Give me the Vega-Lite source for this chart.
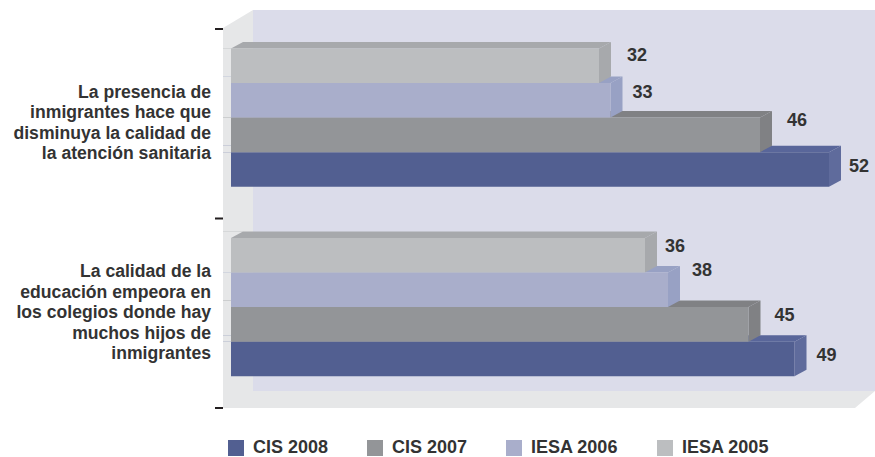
{
"$schema":"https://vega.github.io/schema/vega-lite/v6.json",
"width":652,"height":379,
"autosize":{"type":"none"},
"padding":{"left":223,"top":29,"right":0,"bottom":49},
"background":"white",
"config":{"view":{"stroke":null}},
"layer":[
{"data":{"values":[{"part":"wall"}]},
 "mark":{"type":"point","filled":true,"opacity":1,"fill":"#e6e7e8","strokeWidth":0,"size":4,"shape":"M-326 -190.5L-296 -208.5L326 -208.5L326 172.5L306 189.5L-326 189.5Z"},"encoding":{}},
{"data":{"values":[{"part":"back"}]},
 "mark":{"type":"point","filled":true,"opacity":1,"fill":"#dbdcea","strokeWidth":0,"size":4,"shape":"M-296 -208.5L326 -208.5L326 172.5L-296 172.5Z"},"encoding":{}},
{"data":{"values":[{"part":"ticks"}]},
 "mark":{"type":"point","filled":true,"opacity":1,"fill":"#231f20","strokeWidth":0,"size":4,"shape":"M-334 -190.5L-326 -190.5L-326 -188.5L-334 -188.5ZM-334 -1L-326 -1L-326 1L-334 1ZM-334 188.5L-326 188.5L-326 190.5L-334 190.5Z"},"encoding":{}},
{"data":{"values":[
{"grupo":"a_sanidad","serie":"CIS 2008","valor":52},
{"grupo":"a_sanidad","serie":"CIS 2007","valor":46},
{"grupo":"a_sanidad","serie":"IESA 2006","valor":33},
{"grupo":"a_sanidad","serie":"IESA 2005","valor":32},
{"grupo":"b_educacion","serie":"CIS 2008","valor":49},
{"grupo":"b_educacion","serie":"CIS 2007","valor":45},
{"grupo":"b_educacion","serie":"IESA 2006","valor":38},
{"grupo":"b_educacion","serie":"IESA 2005","valor":36}
]},
"layer":[
{"mark":{"type":"point","clip":true,"filled":true,"opacity":1,"strokeWidth":0,"size":4,"shape":"M-620 -17.3L-620 -23.8L12 -23.8L0 -17.3Z"},
 "encoding":{
  "y":{"field":"grupo","type":"nominal","axis":null,"scale":{"paddingInner":0,"paddingOuter":0}},
  "yOffset":{"field":"serie","type":"nominal","scale":{"domain":["IESA 2005","IESA 2006","CIS 2007","CIS 2008"],"paddingInner":0,"paddingOuter":0.74,"align":0.38}},
  "x":{"field":"valor","type":"quantitative","axis":null,"scale":{"domain":[-0.696,56],"nice":false,"zero":false}},
  "color":{"condition":[{"test":"datum.serie=='CIS 2008'","value":"#59669a"},{"test":"datum.serie=='CIS 2007'","value":"#808184"},{"test":"datum.serie=='IESA 2006'","value":"#98a1c4"}],"value":"#a7a9ac"}}},
{"mark":{"type":"point","filled":true,"opacity":1,"fill":"#e6e7e8","strokeWidth":0,"size":4,"shape":"M-8 -23.8L12 -23.8L0 -17.3L-8 -17.3Z"},
 "encoding":{
  "y":{"field":"grupo","type":"nominal"},
  "yOffset":{"field":"serie","type":"nominal"},
  "x":{"datum":0}}},
{"mark":{"type":"point","filled":true,"opacity":1,"strokeWidth":0,"size":4,"shape":"M0 -17.3L12 -23.8L12 10.8L0 17.3Z"},
 "encoding":{
  "y":{"field":"grupo","type":"nominal"},
  "yOffset":{"field":"serie","type":"nominal"},
  "x":{"field":"valor","type":"quantitative"},
  "color":{"condition":[{"test":"datum.serie=='CIS 2008'","value":"#5f6b9c"},{"test":"datum.serie=='CIS 2007'","value":"#808184"},{"test":"datum.serie=='IESA 2006'","value":"#98a1c4"}],"value":"#a7a9ac"}}},
{"mark":{"type":"bar"},
 "encoding":{
  "y":{"field":"grupo","type":"nominal"},
  "yOffset":{"field":"serie","type":"nominal"},
  "x":{"field":"valor","type":"quantitative"},
  "color":{"field":"serie","type":"nominal","scale":{"domain":["CIS 2008","CIS 2007","IESA 2006","IESA 2005"],"range":["#525f91","#939598","#a9aecb","#bcbec0"]},
   "legend":{"title":null,"orient":"none","legendX":4,"legendY":410,"direction":"horizontal","columns":4,"gridAlign":"each","columnPadding":37,"symbolType":"square","symbolSize":256,"symbolStrokeWidth":0,"symbolOpacity":1,"labelOffset":8,"labelFont":"Liberation Sans","labelFontWeight":"bold","labelFontSize":18,"labelColor":"#333333","labelLimit":0}}}},
{"transform":[{"filter":"datum.valor==32"}],"mark":{"type":"text","align":"left","baseline":"middle","font":"Liberation Sans","fontWeight":"bold","fontSize":18,"fill":"#333333","dx":28,"dy":-10},"encoding":{"y":{"field":"grupo","type":"nominal"},"yOffset":{"field":"serie","type":"nominal"},"x":{"field":"valor","type":"quantitative"},"text":{"field":"valor","type":"quantitative"}}},
{"transform":[{"filter":"datum.valor==33"}],"mark":{"type":"text","align":"left","baseline":"middle","font":"Liberation Sans","fontWeight":"bold","fontSize":18,"fill":"#333333","dx":22,"dy":-7},"encoding":{"y":{"field":"grupo","type":"nominal"},"yOffset":{"field":"serie","type":"nominal"},"x":{"field":"valor","type":"quantitative"},"text":{"field":"valor","type":"quantitative"}}},
{"transform":[{"filter":"datum.valor==46"}],"mark":{"type":"text","align":"left","baseline":"middle","font":"Liberation Sans","fontWeight":"bold","fontSize":18,"fill":"#333333","dx":27,"dy":-14},"encoding":{"y":{"field":"grupo","type":"nominal"},"yOffset":{"field":"serie","type":"nominal"},"x":{"field":"valor","type":"quantitative"},"text":{"field":"valor","type":"quantitative"}}},
{"transform":[{"filter":"datum.valor==52"}],"mark":{"type":"text","align":"left","baseline":"middle","font":"Liberation Sans","fontWeight":"bold","fontSize":18,"fill":"#333333","dx":20,"dy":-2},"encoding":{"y":{"field":"grupo","type":"nominal"},"yOffset":{"field":"serie","type":"nominal"},"x":{"field":"valor","type":"quantitative"},"text":{"field":"valor","type":"quantitative"}}},
{"transform":[{"filter":"datum.valor==36"}],"mark":{"type":"text","align":"left","baseline":"middle","font":"Liberation Sans","fontWeight":"bold","fontSize":18,"fill":"#333333","dx":20,"dy":-8},"encoding":{"y":{"field":"grupo","type":"nominal"},"yOffset":{"field":"serie","type":"nominal"},"x":{"field":"valor","type":"quantitative"},"text":{"field":"valor","type":"quantitative"}}},
{"transform":[{"filter":"datum.valor==38"}],"mark":{"type":"text","align":"left","baseline":"middle","font":"Liberation Sans","fontWeight":"bold","fontSize":18,"fill":"#333333","dx":24,"dy":-19},"encoding":{"y":{"field":"grupo","type":"nominal"},"yOffset":{"field":"serie","type":"nominal"},"x":{"field":"valor","type":"quantitative"},"text":{"field":"valor","type":"quantitative"}}},
{"transform":[{"filter":"datum.valor==45"}],"mark":{"type":"text","align":"left","baseline":"middle","font":"Liberation Sans","fontWeight":"bold","fontSize":18,"fill":"#333333","dx":26,"dy":-8},"encoding":{"y":{"field":"grupo","type":"nominal"},"yOffset":{"field":"serie","type":"nominal"},"x":{"field":"valor","type":"quantitative"},"text":{"field":"valor","type":"quantitative"}}},
{"transform":[{"filter":"datum.valor==49"}],"mark":{"type":"text","align":"left","baseline":"middle","font":"Liberation Sans","fontWeight":"bold","fontSize":18,"fill":"#333333","dx":22,"dy":-3},"encoding":{"y":{"field":"grupo","type":"nominal"},"yOffset":{"field":"serie","type":"nominal"},"x":{"field":"valor","type":"quantitative"},"text":{"field":"valor","type":"quantitative"}}},
{"data":{"values":[{"grupo":"a_sanidad","rotulo":"La presencia de\ninmigrantes hace que\ndisminuya la calidad de\nla atención sanitaria"}]},
 "mark":{"type":"text","align":"right","baseline":"middle","lineBreak":"\n","lineHeight":20.5,"font":"Liberation Sans","fontWeight":"bold","fontSize":17.6,"fill":"#333333","dx":-12,"dy":-31},
 "encoding":{"y":{"field":"grupo","type":"nominal"},"x":{"datum":-0.696},"text":{"field":"rotulo","type":"nominal"}}},
{"data":{"values":[{"grupo":"b_educacion","rotulo":"La calidad de la\neducación empeora en\nlos colegios donde hay\nmuchos hijos de\ninmigrantes"}]},
 "mark":{"type":"text","align":"right","baseline":"middle","lineBreak":"\n","lineHeight":20.5,"font":"Liberation Sans","fontWeight":"bold","fontSize":17.6,"fill":"#333333","dx":-12,"dy":-41},
 "encoding":{"y":{"field":"grupo","type":"nominal"},"x":{"datum":-0.696},"text":{"field":"rotulo","type":"nominal"}}}
]}
]}
